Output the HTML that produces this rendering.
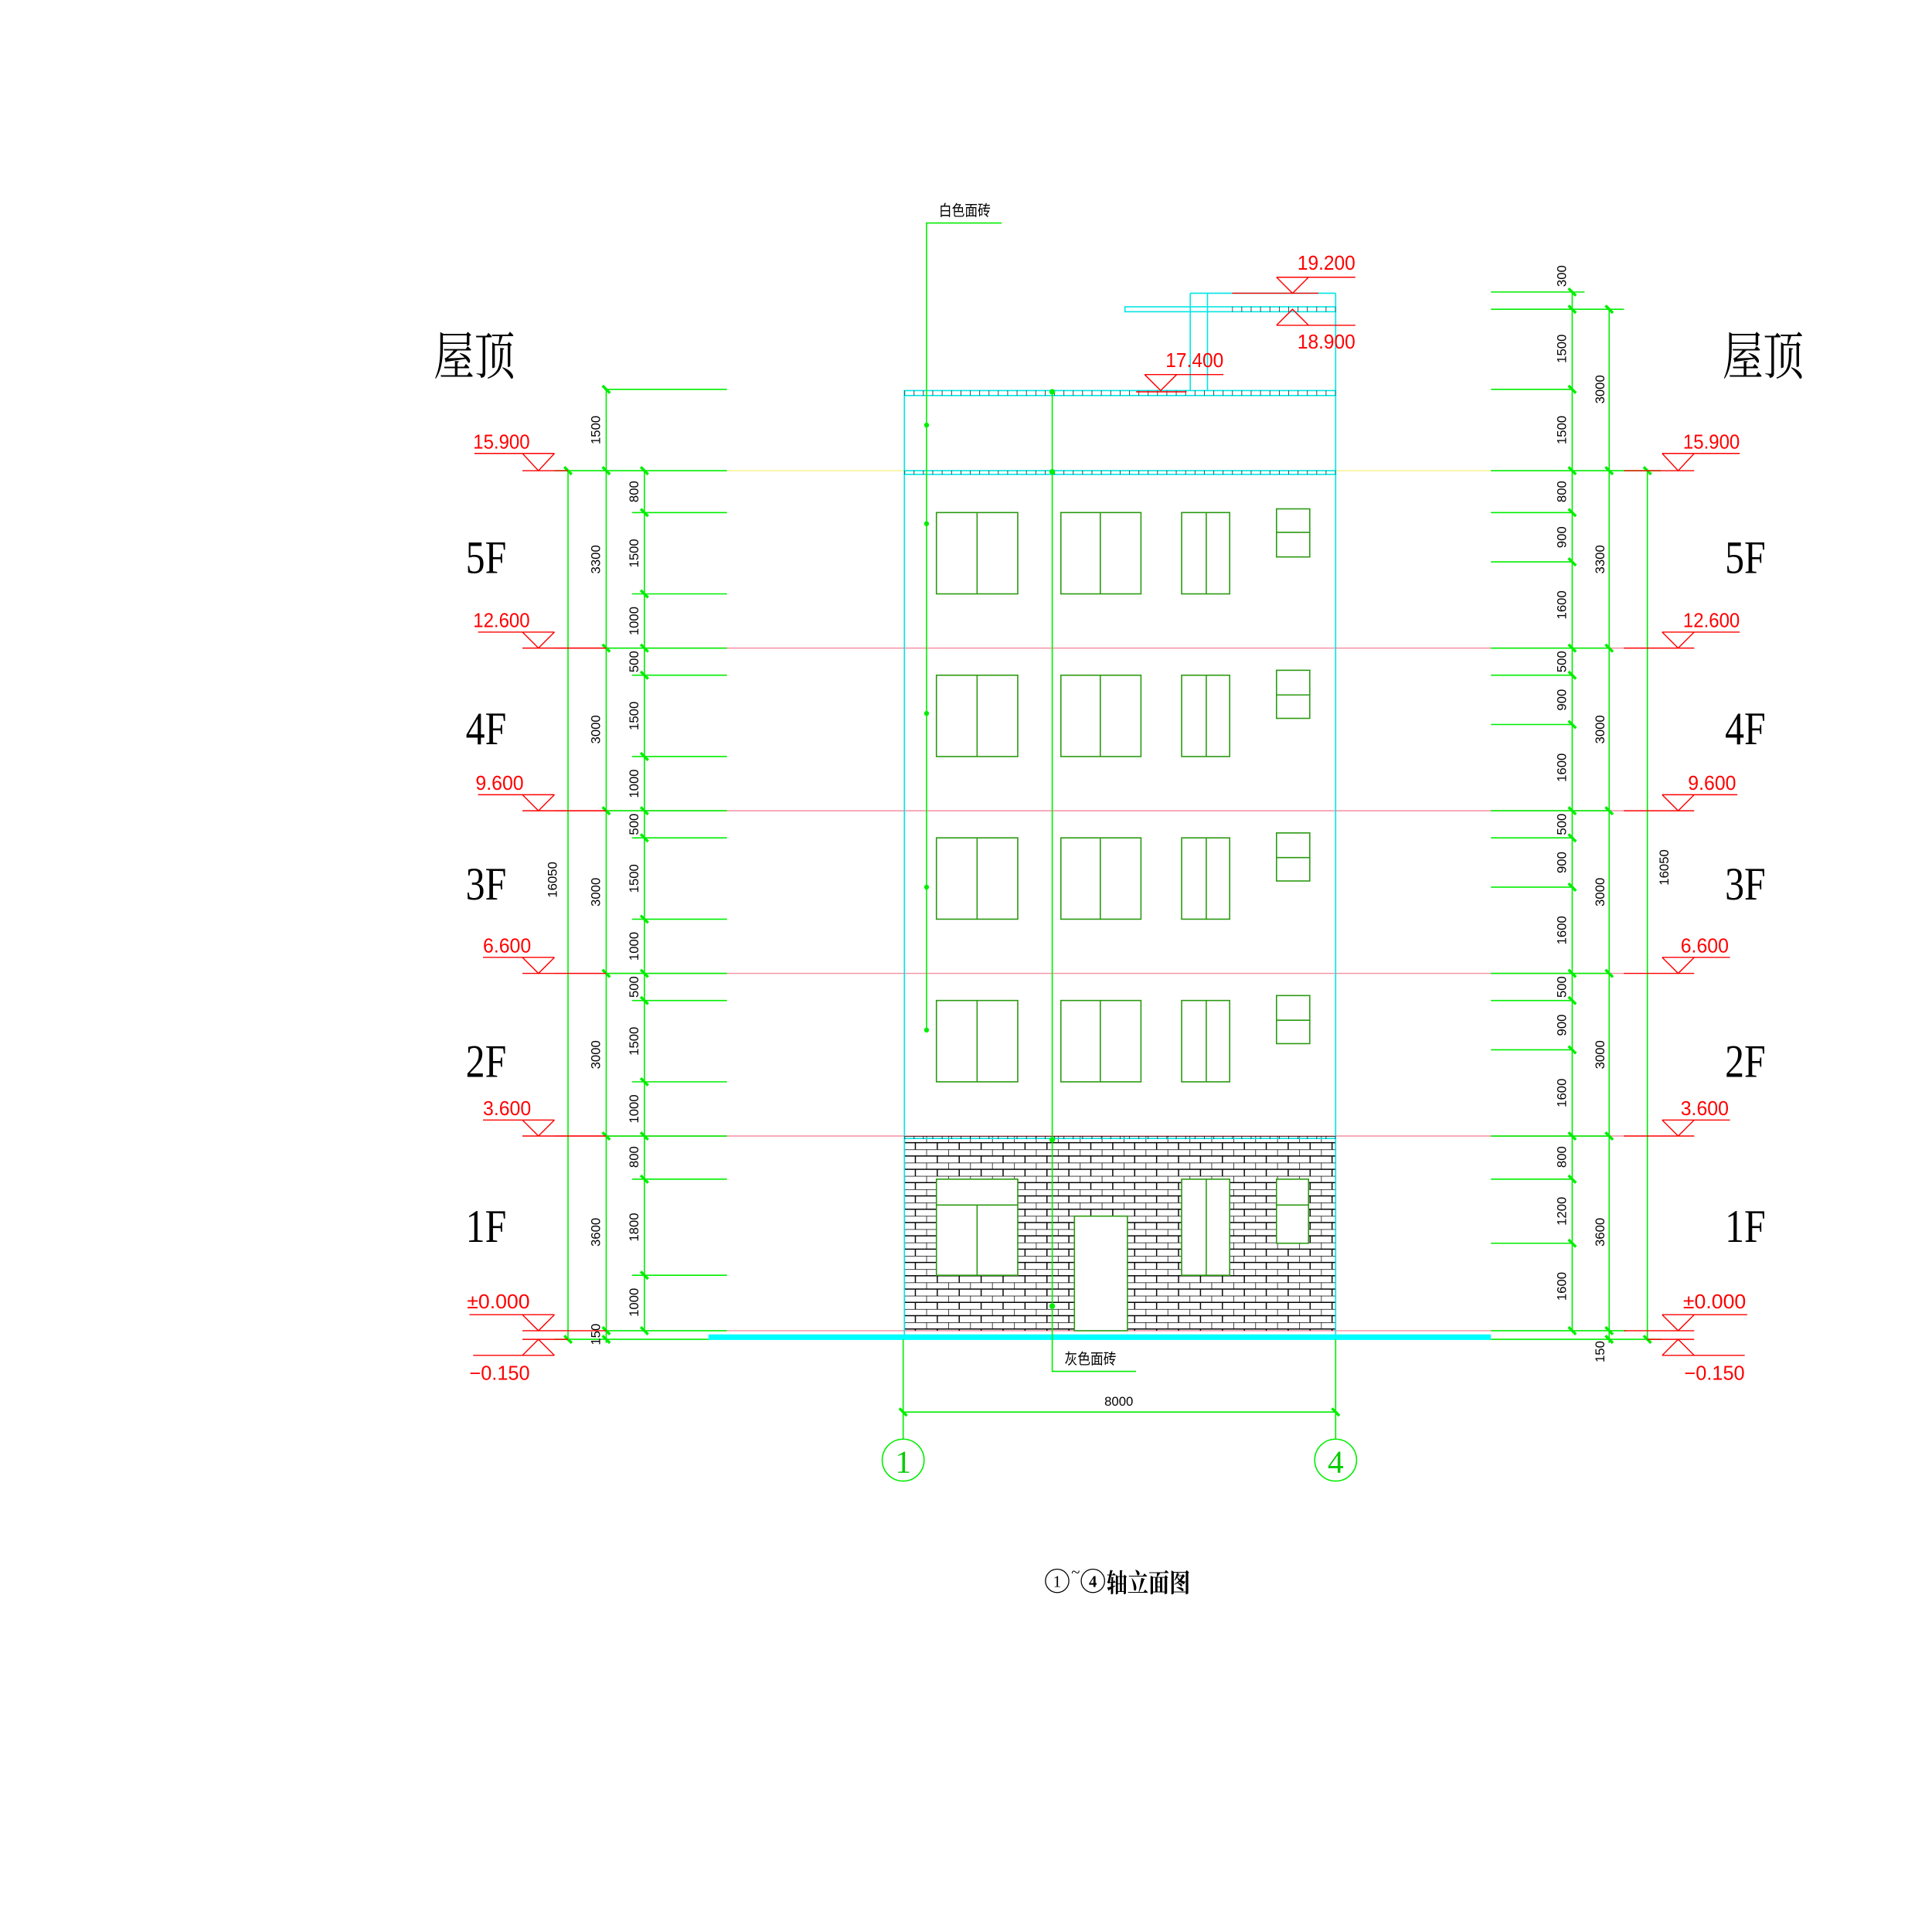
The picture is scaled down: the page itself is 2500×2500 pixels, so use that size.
<!DOCTYPE html>
<html><head><meta charset="utf-8"><style>
html,body{margin:0;padding:0;background:#fff;}
svg{display:block;}
.d{font-family:"Liberation Sans",sans-serif;font-size:10.5px;fill:#000;}
.e{font-family:"Liberation Sans",sans-serif;font-size:16px;fill:#f00;}
.f{font-family:"Liberation Serif","Noto Serif CJK SC",serif;font-size:38px;fill:#000;}
.c{font-family:"Liberation Sans","Noto Sans CJK SC",sans-serif;font-size:12px;fill:#000;}
</style></head><body>
<svg width="2500" height="2500" viewBox="0 0 1568 1568" xmlns="http://www.w3.org/2000/svg">
<defs>
<pattern id="brick" x="734" y="922" width="17.8" height="10.8" patternUnits="userSpaceOnUse">
<path d="M0 0H17.8M0 5.4H17.8M0 0V5.4M8.9 5.4V10.8" stroke="#000" stroke-width="0.9" fill="none"/>
</pattern>
<pattern id="tick" x="734" y="0" width="7.6" height="10" patternUnits="userSpaceOnUse">
<path d="M0 0V10" stroke="#000" stroke-width="0.9"/>
</pattern>
<g id="tk"><line x1="-3" y1="-3" x2="3" y2="3" stroke="#00ee00" stroke-width="2.2"/></g>
</defs>

<g stroke="#f58fa4" stroke-width="0.9">
<line x1="450" y1="526" x2="1320" y2="526"/>
<line x1="450" y1="658" x2="1320" y2="658"/>
<line x1="450" y1="790" x2="1320" y2="790"/>
<line x1="450" y1="922" x2="1320" y2="922"/>
<line x1="590" y1="1080" x2="1210" y2="1080"/>
</g>
<line x1="590" y1="382" x2="1210" y2="382" stroke="#f5f08a" stroke-width="0.9"/>

<rect x="734" y="922" width="350" height="158" fill="url(#brick)"/>
<g stroke="#00e5e5" stroke-width="1" fill="none">
<line x1="734" y1="318" x2="734" y2="1087"/>
<line x1="1084" y1="238" x2="1084" y2="1087"/>
<rect x="734" y="317" width="350" height="4"/>
<rect x="734" y="382" width="350" height="3"/>
<line x1="734" y1="924" x2="1084" y2="924"/>
<rect x="913" y="249" width="171" height="4"/>
<line x1="966" y1="238" x2="1084" y2="238"/>
<line x1="966" y1="238" x2="966" y2="317"/>
<line x1="980" y1="238" x2="980" y2="317"/>
</g>
<rect x="734" y="317" width="350" height="4" fill="url(#tick)"/>
<rect x="734" y="382" width="350" height="3" fill="url(#tick)"/>
<rect x="734" y="922" width="350" height="2.5" fill="url(#tick)"/>
<rect x="1000" y="249" width="84" height="4" fill="url(#tick)"/>
<rect x="575" y="1083" width="635" height="4.5" fill="#00ffff"/>

<g stroke="#2a9a10" stroke-width="1" fill="#fff">
<rect x="760" y="416" width="66" height="66"/><line x1="793" y1="416" x2="793" y2="482"/>
<rect x="861" y="416" width="65" height="66"/><line x1="893" y1="416" x2="893" y2="482"/>
<rect x="959" y="416" width="39" height="66"/><line x1="979" y1="416" x2="979" y2="482"/>
<rect x="1036" y="413" width="27" height="39"/><line x1="1036" y1="432" x2="1063" y2="432"/>
<rect x="760" y="548" width="66" height="66"/><line x1="793" y1="548" x2="793" y2="614"/>
<rect x="861" y="548" width="65" height="66"/><line x1="893" y1="548" x2="893" y2="614"/>
<rect x="959" y="548" width="39" height="66"/><line x1="979" y1="548" x2="979" y2="614"/>
<rect x="1036" y="544" width="27" height="39"/><line x1="1036" y1="564" x2="1063" y2="564"/>
<rect x="760" y="680" width="66" height="66"/><line x1="793" y1="680" x2="793" y2="746"/>
<rect x="861" y="680" width="65" height="66"/><line x1="893" y1="680" x2="893" y2="746"/>
<rect x="959" y="680" width="39" height="66"/><line x1="979" y1="680" x2="979" y2="746"/>
<rect x="1036" y="676" width="27" height="39"/><line x1="1036" y1="696" x2="1063" y2="696"/>
<rect x="760" y="812" width="66" height="66"/><line x1="793" y1="812" x2="793" y2="878"/>
<rect x="861" y="812" width="65" height="66"/><line x1="893" y1="812" x2="893" y2="878"/>
<rect x="959" y="812" width="39" height="66"/><line x1="979" y1="812" x2="979" y2="878"/>
<rect x="1036" y="808" width="27" height="39"/><line x1="1036" y1="828" x2="1063" y2="828"/>
<rect x="760" y="957" width="66" height="78"/><line x1="760" y1="978" x2="826" y2="978"/><line x1="793" y1="978" x2="793" y2="1035"/>
<rect x="872" y="987" width="43" height="93"/>
<rect x="959" y="957" width="39" height="78"/><line x1="979" y1="957" x2="979" y2="1035"/>
<rect x="1036" y="957" width="26" height="52"/><line x1="1036" y1="978" x2="1062" y2="978"/>
</g>

<g stroke="#00ee00" stroke-width="1" fill="none">
<path d="M813 181H752V836"/>
<path d="M854 318V1113H922"/>
</g>
<g fill="#00ee00">
<circle cx="752" cy="345" r="2"/><circle cx="752" cy="425" r="2"/><circle cx="752" cy="579" r="2"/><circle cx="752" cy="720" r="2"/><circle cx="752" cy="836" r="2"/>
<circle cx="854" cy="318" r="2.3"/><circle cx="854" cy="383" r="2.3"/><circle cx="854" cy="925" r="2.3"/><circle cx="854" cy="1060" r="2.3"/>
</g>
<text class="c" x="762" y="175" textLength="42" lengthAdjust="spacingAndGlyphs">白色面砖</text>
<text class="c" x="864" y="1107" textLength="42" lengthAdjust="spacingAndGlyphs">灰色面砖</text>

<g stroke="#00ee00" stroke-width="1">
<line x1="461" y1="382" x2="461" y2="1087"/>
<line x1="492" y1="316" x2="492" y2="1090"/>
<line x1="523" y1="382" x2="523" y2="1080"/>
<line x1="492" y1="316" x2="590" y2="316"/>
<line x1="450" y1="382" x2="590" y2="382"/>
<line x1="492" y1="526" x2="590" y2="526"/><line x1="492" y1="658" x2="590" y2="658"/><line x1="492" y1="790" x2="590" y2="790"/><line x1="492" y1="922" x2="590" y2="922"/>
<line x1="492" y1="1080" x2="590" y2="1080"/><line x1="450" y1="1087" x2="575" y2="1087"/>
<line x1="513" y1="416" x2="590" y2="416"/><line x1="513" y1="482" x2="590" y2="482"/>
<line x1="513" y1="548" x2="590" y2="548"/><line x1="513" y1="614" x2="590" y2="614"/>
<line x1="513" y1="680" x2="590" y2="680"/><line x1="513" y1="746" x2="590" y2="746"/>
<line x1="513" y1="812" x2="590" y2="812"/><line x1="513" y1="878" x2="590" y2="878"/>
<line x1="513" y1="957" x2="590" y2="957"/><line x1="513" y1="1035" x2="590" y2="1035"/>
</g>
<g>
<use href="#tk" x="461" y="382"/><use href="#tk" x="461" y="1087"/>
<use href="#tk" x="492" y="316"/><use href="#tk" x="492" y="382"/><use href="#tk" x="492" y="526"/><use href="#tk" x="492" y="658"/><use href="#tk" x="492" y="790"/><use href="#tk" x="492" y="922"/><use href="#tk" x="492" y="1080"/><use href="#tk" x="492" y="1087"/>
<use href="#tk" x="523" y="382"/><use href="#tk" x="523" y="416"/><use href="#tk" x="523" y="482"/><use href="#tk" x="523" y="526"/><use href="#tk" x="523" y="548"/><use href="#tk" x="523" y="614"/><use href="#tk" x="523" y="658"/><use href="#tk" x="523" y="680"/><use href="#tk" x="523" y="746"/><use href="#tk" x="523" y="790"/><use href="#tk" x="523" y="812"/><use href="#tk" x="523" y="878"/><use href="#tk" x="523" y="922"/><use href="#tk" x="523" y="957"/><use href="#tk" x="523" y="1035"/><use href="#tk" x="523" y="1080"/>
</g>
<g class="d" text-anchor="middle">
<text transform="translate(452,714) rotate(-90)">16050</text>
<text transform="translate(487,349) rotate(-90)">1500</text>
<text transform="translate(487,454) rotate(-90)">3300</text>
<text transform="translate(487,592) rotate(-90)">3000</text>
<text transform="translate(487,724) rotate(-90)">3000</text>
<text transform="translate(487,856) rotate(-90)">3000</text>
<text transform="translate(487,1000) rotate(-90)">3600</text>
<text transform="translate(487,1083) rotate(-90)">150</text>
<text transform="translate(518,399) rotate(-90)">800</text>
<text transform="translate(518,449) rotate(-90)">1500</text>
<text transform="translate(518,504) rotate(-90)">1000</text>
<text transform="translate(518,537) rotate(-90)">500</text>
<text transform="translate(518,581) rotate(-90)">1500</text>
<text transform="translate(518,636) rotate(-90)">1000</text>
<text transform="translate(518,669) rotate(-90)">500</text>
<text transform="translate(518,713) rotate(-90)">1500</text>
<text transform="translate(518,768) rotate(-90)">1000</text>
<text transform="translate(518,801) rotate(-90)">500</text>
<text transform="translate(518,845) rotate(-90)">1500</text>
<text transform="translate(518,900) rotate(-90)">1000</text>
<text transform="translate(518,939) rotate(-90)">800</text>
<text transform="translate(518,996) rotate(-90)">1800</text>
<text transform="translate(518,1057) rotate(-90)">1000</text>
</g>

<g stroke="#00ee00" stroke-width="1">
<line x1="1276" y1="237" x2="1276" y2="1080"/>
<line x1="1306" y1="251" x2="1306" y2="1090"/>
<line x1="1337" y1="382" x2="1337" y2="1087"/>
<line x1="1210" y1="237" x2="1286" y2="237"/><line x1="1210" y1="251" x2="1318" y2="251"/><line x1="1210" y1="316" x2="1276" y2="316"/>
<line x1="1210" y1="382" x2="1348" y2="382"/>
<line x1="1210" y1="416" x2="1276" y2="416"/><line x1="1210" y1="456" x2="1276" y2="456"/>
<line x1="1210" y1="526" x2="1306" y2="526"/><line x1="1210" y1="548" x2="1276" y2="548"/><line x1="1210" y1="588" x2="1276" y2="588"/>
<line x1="1210" y1="658" x2="1306" y2="658"/><line x1="1210" y1="680" x2="1276" y2="680"/><line x1="1210" y1="720" x2="1276" y2="720"/>
<line x1="1210" y1="790" x2="1306" y2="790"/><line x1="1210" y1="812" x2="1276" y2="812"/><line x1="1210" y1="852" x2="1276" y2="852"/>
<line x1="1210" y1="922" x2="1306" y2="922"/><line x1="1210" y1="957" x2="1276" y2="957"/><line x1="1210" y1="1009" x2="1276" y2="1009"/>
<line x1="1210" y1="1080" x2="1320" y2="1080"/><line x1="1210" y1="1087" x2="1348" y2="1087"/>
</g>
<g>
<use href="#tk" x="1276" y="237"/><use href="#tk" x="1276" y="251"/><use href="#tk" x="1276" y="316"/><use href="#tk" x="1276" y="382"/><use href="#tk" x="1276" y="416"/><use href="#tk" x="1276" y="456"/><use href="#tk" x="1276" y="526"/><use href="#tk" x="1276" y="548"/><use href="#tk" x="1276" y="588"/><use href="#tk" x="1276" y="658"/><use href="#tk" x="1276" y="680"/><use href="#tk" x="1276" y="720"/><use href="#tk" x="1276" y="790"/><use href="#tk" x="1276" y="812"/><use href="#tk" x="1276" y="852"/><use href="#tk" x="1276" y="922"/><use href="#tk" x="1276" y="957"/><use href="#tk" x="1276" y="1009"/><use href="#tk" x="1276" y="1080"/>
<use href="#tk" x="1306" y="251"/><use href="#tk" x="1306" y="382"/><use href="#tk" x="1306" y="526"/><use href="#tk" x="1306" y="658"/><use href="#tk" x="1306" y="790"/><use href="#tk" x="1306" y="922"/><use href="#tk" x="1306" y="1080"/><use href="#tk" x="1306" y="1087"/>
<use href="#tk" x="1337" y="382"/><use href="#tk" x="1337" y="1087"/>
</g>
<g class="d" text-anchor="middle">
<text transform="translate(1271,224) rotate(-90)">300</text>
<text transform="translate(1271,283) rotate(-90)">1500</text>
<text transform="translate(1271,349) rotate(-90)">1500</text>
<text transform="translate(1271,399) rotate(-90)">800</text>
<text transform="translate(1271,436) rotate(-90)">900</text>
<text transform="translate(1271,491) rotate(-90)">1600</text>
<text transform="translate(1271,537) rotate(-90)">500</text>
<text transform="translate(1271,568) rotate(-90)">900</text>
<text transform="translate(1271,623) rotate(-90)">1600</text>
<text transform="translate(1271,669) rotate(-90)">500</text>
<text transform="translate(1271,700) rotate(-90)">900</text>
<text transform="translate(1271,755) rotate(-90)">1600</text>
<text transform="translate(1271,801) rotate(-90)">500</text>
<text transform="translate(1271,832) rotate(-90)">900</text>
<text transform="translate(1271,887) rotate(-90)">1600</text>
<text transform="translate(1271,939) rotate(-90)">800</text>
<text transform="translate(1271,983) rotate(-90)">1200</text>
<text transform="translate(1271,1044) rotate(-90)">1600</text>
<text transform="translate(1302,316) rotate(-90)">3000</text>
<text transform="translate(1302,454) rotate(-90)">3300</text>
<text transform="translate(1302,592) rotate(-90)">3000</text>
<text transform="translate(1302,724) rotate(-90)">3000</text>
<text transform="translate(1302,856) rotate(-90)">3000</text>
<text transform="translate(1302,1000) rotate(-90)">3600</text>
<text transform="translate(1302,1097) rotate(-90)">150</text>
<text transform="translate(1354,704) rotate(-90)">16050</text>
</g>

<g stroke="#f00" stroke-width="0.9" fill="none">
<path d="M385 368H450 M424 368L437 382L450 368 M424 382H461"/>
<path d="M388 513H450 M424 513L437 526L450 513 M424 526H492"/>
<path d="M388 645H450 M424 645L437 658L450 645 M424 658H492"/>
<path d="M392 777H450 M424 777L437 790L450 777 M424 790H492"/>
<path d="M392 909H450 M424 909L437 922L450 909 M424 922H492"/>
<path d="M381 1067H450 M424 1067L437 1080L450 1067 M424 1080H492 M424 1087H461 M424 1100L437 1087L450 1100 M384 1100H450"/>
<path d="M1349 368H1412 M1349 368L1362 382L1375 368 M1318 382H1375"/>
<path d="M1349 513H1412 M1349 513L1362 526L1375 513 M1318 526H1375"/>
<path d="M1349 645H1410 M1349 645L1362 658L1375 645 M1318 658H1375"/>
<path d="M1349 777H1404 M1349 777L1362 790L1375 777 M1318 790H1375"/>
<path d="M1349 909H1404 M1349 909L1362 922L1375 909 M1318 922H1375"/>
<path d="M1349 1067H1418 M1349 1067L1362 1080L1375 1067 M1318 1080H1375 M1337 1087H1375 M1349 1100L1362 1087L1375 1100 M1349 1100H1416"/>
<path d="M929 304H993 M929 304L942 317L955 304 M922 318H963"/>
<path d="M1036 225H1100 M1036 225L1049 238L1062 225 M1000 238H1070"/>
<path d="M1036 264H1100 M1036 264L1049 251L1062 264"/>
</g>
<g class="e" lengthAdjust="spacingAndGlyphs">
<text x="384" y="364" textLength="46" lengthAdjust="spacingAndGlyphs">15.900</text>
<text x="384" y="509" textLength="46" lengthAdjust="spacingAndGlyphs">12.600</text>
<text x="386" y="641" textLength="39" lengthAdjust="spacingAndGlyphs">9.600</text>
<text x="392" y="773" textLength="39" lengthAdjust="spacingAndGlyphs">6.600</text>
<text x="392" y="905" textLength="39" lengthAdjust="spacingAndGlyphs">3.600</text>
<text x="379" y="1062" textLength="51" lengthAdjust="spacingAndGlyphs">±0.000</text>
<text x="381" y="1120" textLength="49" lengthAdjust="spacingAndGlyphs">−0.150</text>
<text x="1366" y="364" textLength="46" lengthAdjust="spacingAndGlyphs">15.900</text>
<text x="1366" y="509" textLength="46" lengthAdjust="spacingAndGlyphs">12.600</text>
<text x="1370" y="641" textLength="39" lengthAdjust="spacingAndGlyphs">9.600</text>
<text x="1364" y="773" textLength="39" lengthAdjust="spacingAndGlyphs">6.600</text>
<text x="1364" y="905" textLength="39" lengthAdjust="spacingAndGlyphs">3.600</text>
<text x="1366" y="1062" textLength="51" lengthAdjust="spacingAndGlyphs">±0.000</text>
<text x="1367" y="1120" textLength="49" lengthAdjust="spacingAndGlyphs">−0.150</text>
<text x="946" y="298" textLength="47" lengthAdjust="spacingAndGlyphs">17.400</text>
<text x="1053" y="219" textLength="47" lengthAdjust="spacingAndGlyphs">19.200</text>
<text x="1053" y="283" textLength="47" lengthAdjust="spacingAndGlyphs">18.900</text>
</g>

<g class="f">
<text x="352" y="304" font-size="42" textLength="66" lengthAdjust="spacingAndGlyphs">屋顶</text>
<text x="1398" y="304" font-size="42" textLength="66" lengthAdjust="spacingAndGlyphs">屋顶</text>
<text x="378" y="465" textLength="33" lengthAdjust="spacingAndGlyphs">5F</text><text x="1400" y="465" textLength="33" lengthAdjust="spacingAndGlyphs">5F</text>
<text x="378" y="604" textLength="33" lengthAdjust="spacingAndGlyphs">4F</text><text x="1400" y="604" textLength="33" lengthAdjust="spacingAndGlyphs">4F</text>
<text x="378" y="730" textLength="33" lengthAdjust="spacingAndGlyphs">3F</text><text x="1400" y="730" textLength="33" lengthAdjust="spacingAndGlyphs">3F</text>
<text x="378" y="874" textLength="33" lengthAdjust="spacingAndGlyphs">2F</text><text x="1400" y="874" textLength="33" lengthAdjust="spacingAndGlyphs">2F</text>
<text x="378" y="1008" textLength="33" lengthAdjust="spacingAndGlyphs">1F</text><text x="1400" y="1008" textLength="33" lengthAdjust="spacingAndGlyphs">1F</text>
</g>

<g stroke="#00ee00" stroke-width="1" fill="none">
<line x1="733" y1="1087" x2="733" y2="1168"/>
<line x1="1084" y1="1087" x2="1084" y2="1168"/>
<line x1="733" y1="1146" x2="1084" y2="1146"/>
<circle cx="733" cy="1185" r="17"/>
<circle cx="1084" cy="1185" r="17"/>
</g>
<use href="#tk" x="733" y="1146"/><use href="#tk" x="1084" y="1146"/>
<text class="d" x="908" y="1141" text-anchor="middle">8000</text>
<g font-family="Liberation Serif,serif" font-size="26" fill="#00cc00" text-anchor="middle">
<text x="733" y="1195">1</text><text x="1084" y="1195">4</text>
</g>

<g stroke="#000" stroke-width="0.8" fill="none">
<circle cx="858" cy="1283" r="9.5"/><circle cx="887" cy="1283" r="9.5"/>
</g>
<g font-family="Liberation Serif,serif" font-size="13" text-anchor="middle" fill="#000">
<text x="858" y="1288">1</text><text x="887" y="1288" font-weight="bold">4</text>
<text x="873" y="1280">~</text>
</g>
<text x="898" y="1292" font-family="'Liberation Serif','Noto Serif CJK SC',serif" font-size="21" font-weight="bold" fill="#000" textLength="68" lengthAdjust="spacingAndGlyphs">轴立面图</text>
</svg>
</body></html>
